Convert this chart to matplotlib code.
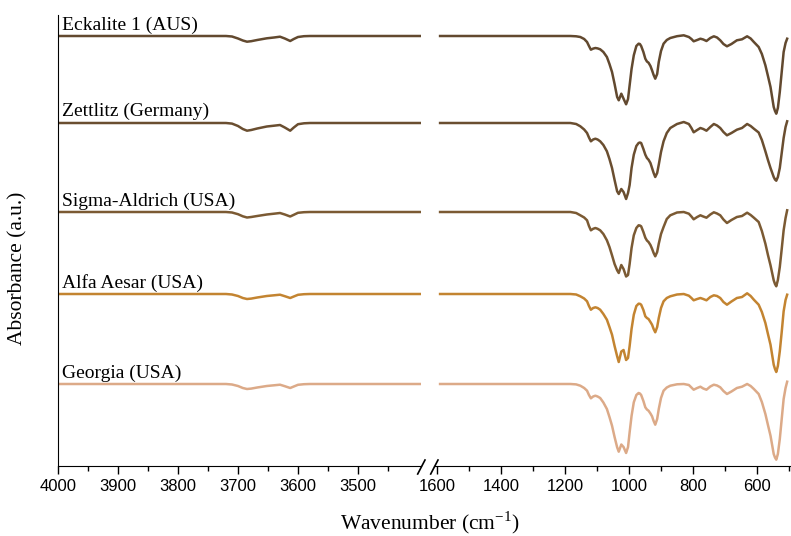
import numpy as np
import matplotlib
matplotlib.use("Agg")
import matplotlib.pyplot as plt

# sample names, top to bottom
names = ["Eckalite 1 (AUS)", "Zettlitz (Germany)", "Sigma-Aldrich (USA)",
         "Alfa Aesar (USA)", "Georgia (USA)"]
colors = ["#62492f", "#6a4e30", "#7b5a33", "#c38431", "#dcaa88"]
offsets = [4.30, 3.43, 2.54, 1.72, 0.82]

# OH stretching region (cm-1), band depth (a.u.)
wn_hi = [4000, 3800, 3720, 3710, 3700, 3692, 3685, 3678, 3668, 3652,
         3640, 3630, 3622, 3613, 3607, 3600, 3590, 3580, 3500, 3395]
oh_1 = [0, 0, 0, 0.005, 0.025, 0.045, 0.057, 0.052, 0.040, 0.023,
        0.015, 0.007, 0.025, 0.050, 0.030, 0.010, 0.002, 0, 0, 0]
oh_2 = [0, 0, 0, 0.006, 0.030, 0.060, 0.077, 0.070, 0.055, 0.035,
        0.027, 0.020, 0.045, 0.077, 0.045, 0.012, 0.003, 0, 0, 0]
oh_3 = [0, 0, 0, 0.005, 0.022, 0.043, 0.055, 0.050, 0.040, 0.025,
        0.017, 0.010, 0.025, 0.045, 0.028, 0.008, 0.002, 0, 0, 0]
oh_4 = [0, 0, 0, 0.005, 0.020, 0.040, 0.050, 0.046, 0.035, 0.020,
        0.013, 0.007, 0.022, 0.040, 0.025, 0.008, 0.002, 0, 0, 0]
oh_5 = [0, 0, 0, 0.005, 0.020, 0.040, 0.050, 0.046, 0.035, 0.020,
        0.013, 0.007, 0.022, 0.040, 0.025, 0.008, 0.002, 0, 0, 0]

# fingerprint region (cm-1)
wn_lo = [1590, 1183, 1165, 1152, 1140, 1131, 1125, 1119, 1112, 1105,
         1098, 1090, 1080, 1069, 1061, 1053, 1045, 1037, 1032, 1024,
         1017, 1009, 1003, 998, 992, 985, 977, 970, 966, 962,
         955, 949, 944, 939, 933, 928, 923, 918, 912, 907,
         900, 892, 882, 871, 850, 829, 813, 805, 798, 787,
         777, 768, 758, 746, 735, 725, 715, 705, 694, 680,
         663, 647, 631, 620, 610, 595, 585, 574, 566, 558,
         548, 544, 540, 535, 529, 523, 517, 511, 506]
fp_1 = [0, 0, 0.003, 0.010, 0.030, 0.060, 0.100, 0.137, 0.126, 0.120,
        0.124, 0.133, 0.160, 0.210, 0.280, 0.360, 0.480, 0.610, 0.643, 0.577,
        0.627, 0.683, 0.630, 0.493, 0.330, 0.193, 0.100, 0.077, 0.080, 0.100,
        0.160, 0.227, 0.255, 0.267, 0.300, 0.343, 0.390, 0.427, 0.380, 0.260,
        0.150, 0.077, 0.040, 0.020, 0.002, -0.007, 0.010, 0.030, 0.053, 0.040,
        0.027, 0.035, 0.050, 0.020, 0.003, 0.015, 0.043, 0.080, 0.103, 0.080,
        0.043, 0.033, 0.003, 0.025, 0.060, 0.110, 0.180, 0.293, 0.400, 0.510,
        0.710, 0.750, 0.777, 0.720, 0.560, 0.360, 0.160, 0.070, 0.027]
fp_2 = [0, 0, 0.010, 0.033, 0.065, 0.100, 0.145, 0.183, 0.165, 0.157,
        0.165, 0.183, 0.220, 0.283, 0.360, 0.450, 0.570, 0.683, 0.710, 0.660,
        0.690, 0.760, 0.700, 0.620, 0.450, 0.317, 0.230, 0.200, 0.195, 0.200,
        0.260, 0.317, 0.350, 0.367, 0.400, 0.450, 0.500, 0.540, 0.500, 0.417,
        0.290, 0.183, 0.100, 0.050, 0.010, -0.010, 0.010, 0.050, 0.093, 0.070,
        0.050, 0.060, 0.077, 0.040, 0.010, 0.025, 0.050, 0.090, 0.123, 0.100,
        0.067, 0.050, 0.010, 0.030, 0.057, 0.095, 0.170, 0.283, 0.370, 0.450,
        0.540, 0.565, 0.577, 0.540, 0.450, 0.300, 0.150, 0.040, -0.017]
fp_3 = [0, 0, 0.010, 0.033, 0.055, 0.083, 0.140, 0.183, 0.168, 0.160,
        0.168, 0.183, 0.220, 0.283, 0.350, 0.433, 0.520, 0.583, 0.610, 0.530,
        0.570, 0.645, 0.630, 0.520, 0.360, 0.233, 0.160, 0.133, 0.135, 0.143,
        0.200, 0.257, 0.285, 0.300, 0.330, 0.367, 0.410, 0.443, 0.400, 0.317,
        0.220, 0.150, 0.070, 0.033, 0.005, 0, 0.017, 0.045, 0.073, 0.050,
        0.033, 0.045, 0.057, 0.025, 0.003, 0.015, 0.033, 0.075, 0.110, 0.080,
        0.050, 0.040, 0.007, 0.030, 0.057, 0.100, 0.190, 0.317, 0.430, 0.533,
        0.683, 0.720, 0.743, 0.680, 0.550, 0.370, 0.183, 0.060, -0.017]
fp_4 = [0, 0, 0.005, 0.023, 0.045, 0.073, 0.120, 0.157, 0.140, 0.133,
        0.140, 0.157, 0.200, 0.257, 0.330, 0.407, 0.520, 0.623, 0.680, 0.575,
        0.560, 0.660, 0.640, 0.520, 0.350, 0.207, 0.120, 0.097, 0.098, 0.107,
        0.160, 0.223, 0.240, 0.250, 0.280, 0.307, 0.350, 0.383, 0.330, 0.240,
        0.140, 0.073, 0.040, 0.023, 0.005, 0, 0.017, 0.040, 0.063, 0.050,
        0.040, 0.050, 0.063, 0.030, 0.013, 0.020, 0.040, 0.080, 0.107, 0.075,
        0.040, 0.030, -0.007, 0.020, 0.057, 0.107, 0.180, 0.290, 0.400, 0.507,
        0.707, 0.750, 0.780, 0.720, 0.573, 0.380, 0.173, 0.060, 0.007]
fp_5 = [0, 0, 0.004, 0.017, 0.040, 0.067, 0.110, 0.143, 0.125, 0.117,
        0.125, 0.140, 0.185, 0.250, 0.330, 0.417, 0.530, 0.633, 0.677, 0.605,
        0.630, 0.690, 0.630, 0.483, 0.320, 0.183, 0.110, 0.090, 0.095, 0.110,
        0.170, 0.233, 0.255, 0.267, 0.295, 0.323, 0.370, 0.407, 0.350, 0.250,
        0.140, 0.067, 0.035, 0.017, 0.003, 0, 0.010, 0.035, 0.057, 0.040,
        0.027, 0.045, 0.057, 0.025, 0.007, 0.015, 0.033, 0.070, 0.100, 0.075,
        0.040, 0.027, 0, 0.020, 0.050, 0.100, 0.180, 0.300, 0.410, 0.517,
        0.700, 0.735, 0.757, 0.700, 0.550, 0.350, 0.150, 0.040, -0.023]

oh = [oh_1, oh_2, oh_3, oh_4, oh_5]
fp = [fp_1, fp_2, fp_3, fp_4, fp_5]

plt.rcParams["font.family"] = ["Liberation Sans", "DejaVu Sans"]
plt.rcParams["mathtext.fontset"] = "custom"
plt.rcParams["mathtext.rm"] = "Liberation Serif"
serif = ["Liberation Serif", "DejaVu Serif"]

W, H = 791, 536
fig = plt.figure(figsize=(W / 100, H / 100), dpi=100)
bot = 1 - 466 / H
hgt = (466 - 15) / H
ax1 = fig.add_axes([58 / W, bot, (421 - 58) / W, hgt])
ax2 = fig.add_axes([434 / W, bot, (W - 434) / W, hgt])

for i in range(5):
    ax1.plot(wn_hi, offsets[i] - np.array(oh[i]), color=colors[i], lw=1.8,
             solid_joinstyle="round")
    ax2.plot(wn_lo, offsets[i] - np.array(fp[i]), color=colors[i], lw=1.8,
             solid_joinstyle="round")
    ax1.text(3993, offsets[i] + 0.025, names[i], family=serif, fontsize=14,
             ha="left", va="bottom")

ax1.set_xlim(4000, 3395)
ax2.set_xlim(1609, 494)
for ax in (ax1, ax2):
    ax.set_ylim(0, 4.51)
    ax.set_yticks([])
    ax.spines["top"].set_visible(False)
    ax.spines["right"].set_visible(False)
    ax.tick_params(axis="x", which="major", length=6, width=1, labelsize=12)
    ax.tick_params(axis="x", which="minor", length=3.5, width=1)
ax2.spines["left"].set_visible(False)

ax1.set_xticks([4000, 3900, 3800, 3700, 3600, 3500])
ax1.set_xticks(np.arange(3450, 4000, 100), minor=True)
ax2.set_xticks([1600, 1400, 1200, 1000, 800, 600])
ax2.set_xticks([1500, 1300, 1100, 900, 700, 500], minor=True)

# break marks on the x axis
for x0 in (417.7, 430.7):
    fig.add_artist(plt.Line2D([x0 / W, (x0 + 7.3) / W], [1 - 474 / H, 1 - 460 / H],
                              color="black", lw=1.2))

fig.text(430 / W, 1 - 523 / H, "Wavenumber (cm$^{-1}$)", family=serif,
         fontsize=15.5, ha="center", va="center")
fig.text(18 / W, 1 - 268 / H, "Absorbance (a.u.)", family=serif, fontsize=15.5,
         rotation=90, ha="center", va="center")

fig.savefig("out.png", dpi=100)
